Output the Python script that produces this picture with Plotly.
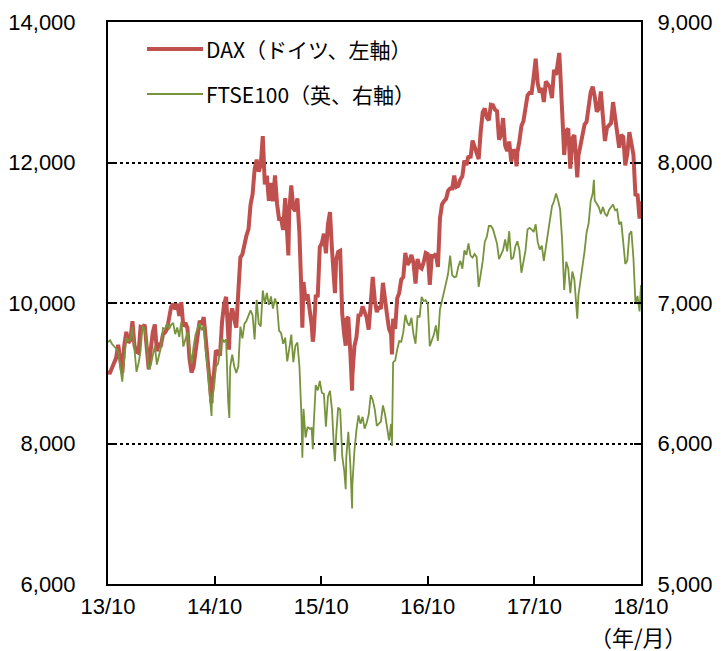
import plotly.graph_objects as go
import pandas as pd

dax_2013 = [9010, 9009, 9078, 9168, 9219, 9405, 9172, 9006, 9400, 9589]
dax_2014 = [9435, 9473, 9742, 9392, 9306,
            9289, 9662, 9656, 9692,
            9350, 9056, 9342, 9587,
            9695, 9315, 9409, 9401,
            9556, 9581, 9630, 9768, 9943,
            9987, 9912, 9987, 9815,
            10009, 9666, 9720, 9644,
            9210, 9010, 9092, 9339, 9470,
            9748, 9691, 9799, 9490,
            9195, 8788, 8850, 8988, 9326,
            9291, 9252, 9733, 9980,
            10087, 9594, 9787, 9923]
dax_2015 = [9765, 9648, 10168, 10649, 10694,
            10846, 10963, 11051, 11402,
            11551, 11901, 12040, 11869,
            11967, 12375, 11689, 11811,
            11454, 11709, 11447, 11815, 11413,
            11197, 11197, 11040, 11492,
            11058, 11316, 11673, 11347, 11308,
            11490, 10985, 10124, 10298,
            10038, 10123, 9916, 9688,
            9553, 10096, 10104, 10795, 10850,
            10988, 10708, 11120, 11293,
            10752, 10340, 10609, 10727]
dax_2016 = [10743, 9849, 9545, 9765, 9798,
            9286, 8967, 9388, 9513,
            9824, 9831, 9951, 9851,
            9795, 9622, 10051, 10373, 10039,
            9870, 9952, 9916, 10287,
            10103, 9834, 9631, 9558,
            9776, 9630, 10066, 10147, 10337,
            10367, 10713, 10544, 10588,
            10684, 10573, 10276, 10626, 10511,
            10490, 10580, 10711, 10696,
            10259, 10668, 10664, 10699,
            10513, 11203, 11404, 11450, 11481]
dax_2017 = [11599, 11629, 11630, 11814,
            11651, 11666, 11757, 11804,
            12027, 11963, 12095, 12064, 12313,
            12225, 12109, 12049, 12438,
            12717, 12770, 12638, 12602,
            12823, 12815, 12752, 12733, 12325,
            12389, 12632, 12240, 12163,
            12298, 12014, 12165, 12168,
            12142, 12304, 12519, 12592, 12829,
            12956, 12992, 12991, 13217,
            13478, 13127, 12994, 13060,
            12861, 13153, 13104, 13072, 12918]
dax_2018 = [13320, 13245, 13434, 13340,
            12785, 12107, 12452, 12483,
            11914, 12346, 12390, 11886, 12097,
            12241, 12442, 12540, 12581,
            12820, 13001, 13078, 12938,
            12724, 12767, 13011, 12580, 12306,
            12496, 12541, 12561, 12860,
            12616, 12425, 12211, 12394, 12364,
            11960, 12124, 12431, 12247,
            12112, 11524, 11554, 11201]
dax_extra_dates = ["2014-10-16", "2014-12-15", "2015-07-07", "2015-08-24", "2015-09-29",
                   "2015-12-14", "2016-01-20", "2016-02-11", "2016-06-27", "2017-08-29",
                   "2018-01-23", "2018-03-26", "2018-10-29", "2018-10-30", "2018-10-31"]
dax_extra_vals = [8572, 9335, 10676, 9648, 9450,
                  10140, 9392, 8752, 9269, 11945,
                  13559, 11787, 11335, 11287, 11447]

ftse_2013 = [6721, 6735, 6708, 6693, 6675, 6651, 6552, 6440, 6606, 6750]
ftse_2014 = [6731, 6740, 6829, 6663, 6510,
             6571, 6663, 6838, 6810,
             6712, 6527, 6557, 6616,
             6695, 6562, 6625, 6685,
             6822, 6815, 6856, 6815, 6845,
             6858, 6778, 6826, 6758,
             6866, 6690, 6749, 6792,
             6679, 6567, 6689, 6776, 6820,
             6855, 6806, 6837, 6650,
             6528, 6340, 6310, 6389, 6546,
             6567, 6654, 6750, 6723,
             6742, 6300, 6545, 6633]
ftse_2015 = [6548, 6501, 6550, 6832, 6749,
             6853, 6874, 6915, 6947,
             6912, 6740, 7022, 6855,
             6833, 7089, 6995, 7071,
             6986, 7047, 6960, 7032, 6984,
             6804, 6785, 6710, 6753,
             6585, 6673, 6775, 6579, 6696,
             6719, 6550, 6188, 6247,
             6043, 6118, 6105, 6110,
             6130, 6416, 6378, 6445, 6361,
             6353, 6119, 6334, 6375,
             6238, 5952, 6052, 6255]
ftse_2016 = [6242, 5912, 5804, 5900, 6083,
             5848, 5708, 5950, 6097,
             6200, 6140, 6190, 6106,
             6146, 6204, 6344, 6310, 6242,
             6125, 6138, 6156, 6271,
             6210, 6116, 6022, 6139,
             6578, 6591, 6669, 6730, 6724,
             6793, 6916, 6859, 6838,
             6895, 6777, 6710, 6910, 6899,
             7044, 7014, 7020, 6996,
             6693, 6730, 6775, 6840,
             6731, 6954, 7011, 7068, 7143]
ftse_2017 = [7210, 7338, 7198, 7184,
             7189, 7258, 7300, 7244,
             7374, 7343, 7425, 7337, 7323,
             7349, 7328, 7115, 7204,
             7298, 7435, 7471, 7548,
             7548, 7527, 7464, 7424, 7313,
             7350, 7378, 7453, 7368,
             7511, 7310, 7324, 7402,
             7439, 7378, 7215, 7311, 7373,
             7523, 7535, 7523, 7505,
             7560, 7433, 7380, 7409,
             7300, 7394, 7491, 7593, 7688]
ftse_2018 = [7724, 7779, 7731, 7666,
             7443, 7092, 7294, 7244,
             7070, 7224, 7164, 6922, 7057,
             7184, 7265, 7368, 7502,
             7567, 7725, 7779, 7730,
             7702, 7682, 7634, 7683, 7637,
             7618, 7662, 7679, 7701,
             7660, 7667, 7559, 7577, 7432,
             7278, 7304, 7490, 7510,
             7318, 6996, 7050, 6940]
ftse_extra_dates = ["2014-10-16", "2014-12-16", "2015-08-24", "2015-09-29", "2015-12-14",
                    "2016-01-20", "2016-02-11", "2016-06-27", "2018-03-26", "2018-05-22",
                    "2018-10-29", "2018-10-30", "2018-10-31"]
ftse_extra_vals = [6196, 6182, 5898, 5959, 5874,
                   5674, 5537, 5982, 6889, 7877,
                   7027, 7036, 7128]

year_starts = ["2013-10-25", "2014-01-03", "2015-01-02", "2016-01-01", "2017-01-06", "2018-01-05"]
x_labels = ["13/10", "14/10", "15/10", "16/10", "17/10", "18/10"]
range_start, range_end = "2013-10-25", "2018-10-31"


def build(year_lists, extra_dates, extra_vals):
    rows = []
    for start, vals in zip(year_starts, year_lists):
        for d, v in zip(pd.date_range(start, periods=len(vals), freq="W-FRI"), vals):
            rows.append((d, v))
    for d, v in zip(extra_dates, extra_vals):
        rows.append((pd.Timestamp(d), v))
    df = pd.DataFrame(rows, columns=["date", "value"]).drop_duplicates("date").sort_values("date")
    return df


dax = build([dax_2013, dax_2014, dax_2015, dax_2016, dax_2017, dax_2018], dax_extra_dates, dax_extra_vals)
ftse = build([ftse_2013, ftse_2014, ftse_2015, ftse_2016, ftse_2017, ftse_2018], ftse_extra_dates, ftse_extra_vals)

RED = "#C0504D"
GREEN = "#77933C"
TICKFONT = dict(family="Liberation Sans, Arial, sans-serif", size=22, color="black")
JPFONT = "Noto Sans CJK JP"

# page has an 8px body margin; figure sized so the plot box lands where the reference has it
W, H = 718, 643
L, T, PW, PH = 100, 14, 533, 562

fig = go.Figure()
fig.add_trace(go.Scatter(x=dax["date"], y=dax["value"], mode="lines",
                         line=dict(color=RED, width=4), name="DAX（ドイツ、左軸）",
                         yaxis="y"))
fig.add_trace(go.Scatter(x=ftse["date"], y=ftse["value"], mode="lines",
                         line=dict(color=GREEN, width=1.8), name="FTSE100（英、右軸）",
                         yaxis="y2"))

t0, t1 = pd.Timestamp(range_start), pd.Timestamp(range_end)
tickvals = [(t0 + (t1 - t0) * k / 5).strftime("%Y-%m-%d %H:%M:%S") for k in range(6)]

fig.update_layout(
    width=W, height=H,
    margin=dict(l=L, r=W - L - PW, t=T, b=H - T - PH, autoexpand=False),
    paper_bgcolor="white", plot_bgcolor="white",
    showlegend=False,
    xaxis=dict(type="date", range=[range_start, range_end],
               tickmode="array", tickvals=tickvals, ticktext=x_labels,
               ticks="inside", ticklen=8, tickwidth=1.5, tickcolor="black",
               showline=True, linecolor="black", linewidth=2, mirror=True,
               showgrid=False, zeroline=False, tickfont=TICKFONT,
               ticklabelstandoff=2),
    yaxis=dict(range=[6000, 14000], tickmode="linear", tick0=6000, dtick=2000,
               tickformat=",", ticks="inside", ticklen=7, tickwidth=1.5, tickcolor="black",
               showline=True, linecolor="black", linewidth=2, mirror=True,
               showgrid=True, gridcolor="black", gridwidth=1.5, griddash="dot",
               zeroline=False, tickfont=TICKFONT, ticklabelstandoff=26),
    yaxis2=dict(range=[5000, 9000], tickmode="linear", tick0=5000, dtick=1000,
                tickformat=",", overlaying="y", side="right",
                ticks="inside", ticklen=7, tickwidth=1.5, tickcolor="black",
                showline=True, linecolor="black", linewidth=2,
                showgrid=False, zeroline=False, tickfont=TICKFONT, ticklabelstandoff=10),
)

# manual legend (positions given in page pixels of the reference, converted to paper coords)
def px_x(xpix):
    return (xpix - 8 - L) / PW


def px_y(ypix):
    return 1 - (ypix - 8 - T) / PH


leg = [(RED, 4, 49, "DAX（ドイツ、左軸）"), (GREEN, 2, 94, "FTSE100（英、右軸）")]
for color, w, ypix, text in leg:
    fig.add_shape(type="line", xref="paper", yref="paper",
                  x0=px_x(147), x1=px_x(203), y0=px_y(ypix), y1=px_y(ypix),
                  line=dict(color=color, width=w))
    fig.add_annotation(xref="paper", yref="paper", x=px_x(204), y=px_y(ypix),
                       xanchor="left", yanchor="middle", showarrow=False, text=text,
                       font=dict(family=JPFONT, size=21, color="black"))

fig.add_annotation(xref="paper", yref="paper", x=px_x(638), y=px_y(636),
                   xanchor="center", yanchor="middle", showarrow=False, text="（年/月）",
                   font=dict(family=JPFONT, size=22, color="black"))

fig.write_html("out.html")
